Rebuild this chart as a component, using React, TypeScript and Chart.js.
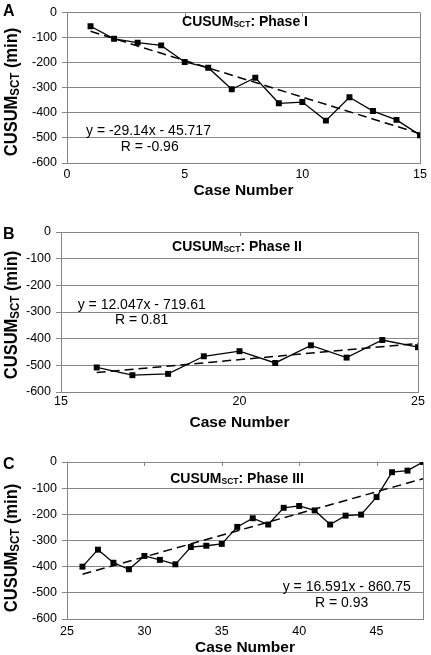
import React, { useEffect, useRef } from "react";
import { Chart, registerables } from "chart.js";

Chart.register(...registerables);

const FONT = '"Liberation Sans", Arial, Helvetica, sans-serif';
const GRID = "#868686";

// ---- data ----
const yTickValues = [0, -100, -200, -300, -400, -500, -600];

const phaseICases = [1, 2, 3, 4, 5, 6, 7, 8, 9, 10, 11, 12, 13, 14, 15];
const phaseIValues = [-55, -105, -120, -131, -197, -220, -306, -260, -362, -357, -431, -338, -393, -428, -489];
const phaseITrendCases = [1, 15];
const phaseITrendValues = [-75, -483];
const phaseIXTicks = [0, 5, 10, 15];

const phaseIICases = [16, 17, 18, 19, 20, 21, 22, 23, 24, 25];
const phaseIIValues = [-508, -537, -532, -466, -447, -491, -425, -471, -405, -432];
const phaseIITrendCases = [16, 25];
const phaseIITrendValues = [-527, -418];
const phaseIIXTicks = [15, 20, 25];

const phaseIIICases = [26, 27, 28, 29, 30, 31, 32, 33, 34, 35, 36, 37, 38, 39, 40, 41, 42, 43, 44, 45, 46, 47, 48];
const phaseIIIValues = [-400, -335, -385, -410, -359, -374, -391, -325, -320, -313, -248, -215, -239, -175, -168, -185, -239, -205, -201, -134, -39, -33, 0];
const phaseIIITrendCases = [26, 48];
const phaseIIITrendValues = [-429, -64];
const phaseIIIXTicks = [25, 30, 35, 40, 45];

type Part = { text: string; size: number; bold?: boolean; dy?: number };

type PanelCfg = {
  letter: string;
  phase: string;
  cases: number[];
  values: number[];
  trendCases: number[];
  trendValues: number[];
  xTicks: number[];
  xMin: number;
  xMax: number;
  canvasTop: number;
  canvasHeight: number;
  plotLeft: number;
  plotRight: number;
  plotTop: number;
  plotBottom: number;
  xTickPad: number;
  xTitlePad: number;
  letterBase: number;
  titleX: number;
  titleBase: number;
  eq: string;
  r: string;
  eqX: number;
  eqBase: number;
  rX: number;
  rBase: number;
  yTitleCenter: number;
};

const panels: PanelCfg[] = [
  {
    letter: "A", phase: ": Phase I",
    cases: phaseICases, values: phaseIValues,
    trendCases: phaseITrendCases, trendValues: phaseITrendValues,
    xTicks: phaseIXTicks, xMin: 0, xMax: 15,
    canvasTop: 0, canvasHeight: 205,
    plotLeft: 67, plotRight: 423, plotTop: 6, plotBottom: 163,
    xTickPad: 4, xTitlePad: 6.5,
    letterBase: 16, titleX: 245, titleBase: 25.7,
    eq: "y = -29.14x - 45.717", r: "R = -0.96",
    eqX: 86, eqBase: 135, rX: 120.7, rBase: 150.7,
    yTitleCenter: 92,
  },
  {
    letter: "B", phase: ": Phase II",
    cases: phaseIICases, values: phaseIIValues,
    trendCases: phaseIITrendCases, trendValues: phaseIITrendValues,
    xTicks: phaseIIXTicks, xMin: 15, xMax: 25,
    canvasTop: 212, canvasHeight: 223,
    plotLeft: 61, plotRight: 418, plotTop: 232, plotBottom: 392,
    xTickPad: 2.2, xTitlePad: 4.2,
    letterBase: 239, titleX: 237, titleBase: 250.7,
    eq: "y = 12.047x - 719.61", r: "R = 0.81",
    eqX: 77.7, eqBase: 309, rX: 115, rBase: 324,
    yTitleCenter: 315,
  },
  {
    letter: "C", phase: ": Phase III",
    cases: phaseIIICases, values: phaseIIIValues,
    trendCases: phaseIIITrendCases, trendValues: phaseIIITrendValues,
    xTicks: phaseIIIXTicks, xMin: 25, xMax: 48,
    canvasTop: 437, canvasHeight: 218,
    plotLeft: 67, plotRight: 423, plotTop: 462, plotBottom: 619,
    xTickPad: 5.2, xTitlePad: 0,
    letterBase: 469, titleX: 237, titleBase: 482.7,
    eq: "y = 16.591x - 860.75", r: "R = 0.93",
    eqX: 282.7, eqBase: 590.7, rX: 315, rBase: 606.7,
    yTitleCenter: 548,
  },
];

function fontOf(p: Part) {
  return `${p.bold ? "bold " : ""}${p.size}px ${FONT}`;
}

function drawRich(ctx: CanvasRenderingContext2D, parts: Part[], x: number, y: number, align: "left" | "center") {
  let total = 0;
  for (const p of parts) {
    ctx.font = fontOf(p);
    total += ctx.measureText(p.text).width;
  }
  let cx = align === "center" ? x - total / 2 : x;
  ctx.textAlign = "left";
  ctx.textBaseline = "alphabetic";
  for (const p of parts) {
    ctx.font = fontOf(p);
    ctx.fillText(p.text, cx, y + (p.dy || 0));
    cx += ctx.measureText(p.text).width;
  }
}

function makeDecor(cfg: PanelCfg) {
  const off = cfg.canvasTop;
  return {
    id: "decor" + cfg.letter,
    beforeDatasetsDraw(chart: any) {
      const { ctx, chartArea: a } = chart;
      const xs = chart.scales.x;
      ctx.save();
      ctx.strokeStyle = GRID;
      ctx.lineWidth = 1;
      ctx.beginPath();
      const rx = Math.round(a.right) + 0.5;
      ctx.moveTo(rx, a.top);
      ctx.lineTo(rx, a.bottom);
      for (const t of xs.ticks) {
        if (t.value > xs.min && t.value < xs.max) {
          const px = Math.round(xs.getPixelForValue(t.value)) + 0.5;
          ctx.moveTo(px, a.top);
          ctx.lineTo(px, a.top + 4);
        }
      }
      ctx.stroke();
      ctx.restore();
    },
    afterDraw(chart: any) {
      const ctx: CanvasRenderingContext2D = chart.ctx;
      ctx.save();
      ctx.fillStyle = "#000";
      // panel letter
      drawRich(ctx, [{ text: cfg.letter, size: 16, bold: true }], 3, cfg.letterBase - off, "left");
      // inner title
      drawRich(
        ctx,
        [
          { text: "CUSUM", size: 14, bold: true },
          { text: "SCT", size: 8.5, bold: true, dy: 1 },
          { text: cfg.phase, size: 14, bold: true },
        ],
        cfg.titleX,
        cfg.titleBase - off,
        "center"
      );
      // equation
      drawRich(ctx, [{ text: cfg.eq, size: 14 }], cfg.eqX, cfg.eqBase - off, "left");
      drawRich(ctx, [{ text: cfg.r, size: 14 }], cfg.rX, cfg.rBase - off, "left");
      // y title (glyphs slightly stretched across the text direction)
      ctx.save();
      ctx.translate(16.7, cfg.yTitleCenter - off);
      ctx.rotate(-Math.PI / 2);
      ctx.scale(1, 1.12);
      drawRich(
        ctx,
        [
          { text: "CUSUM", size: 16.5, bold: true },
          { text: "SCT", size: 11.5, bold: true, dy: 2.3 },
          { text: " (min)", size: 16.5, bold: true },
        ],
        0,
        0,
        "center"
      );
      ctx.restore();
      ctx.restore();
    },
  };
}

function Panel({ cfg }: { cfg: PanelCfg }) {
  const ref = useRef<HTMLCanvasElement | null>(null);
  useEffect(() => {
    if (!ref.current) return;
    const data = cfg.cases.map((c, i) => ({ x: c, y: cfg.values[i] }));
    const trend = cfg.trendCases.map((c, i) => ({ x: c, y: cfg.trendValues[i] }));
    const chart = new Chart(ref.current, {
      type: "scatter",
      data: {
        datasets: [
          {
            data: trend,
            showLine: true,
            borderColor: "#000",
            borderWidth: 1.5,
            borderDash: [9, 5],
            pointRadius: 0,
            fill: false,
          },
          {
            data,
            showLine: true,
            borderColor: "#000",
            backgroundColor: "#000",
            borderWidth: 1.3,
            pointStyle: "rect",
            pointRadius: 4.2,
            pointBorderWidth: 0,
            pointBackgroundColor: "#000",
            fill: false,
          },
        ],
      } as any,
      options: {
        responsive: false,
        animation: false,
        devicePixelRatio: 1,
        layout: {
          padding: {
            left: 0,
            top: cfg.plotTop - cfg.canvasTop,
            right: 431 - cfg.plotRight,
            bottom: 0,
          },
        },
        plugins: { legend: { display: false }, tooltip: { enabled: false }, title: { display: false } },
        scales: {
          x: {
            type: "linear",
            min: cfg.xMin,
            max: cfg.xMax,
            afterBuildTicks: (s: any) => {
              s.ticks = cfg.xTicks.map((v) => ({ value: v }));
            },
            afterFit: (s: any) => {
              s.height = cfg.canvasTop + cfg.canvasHeight - cfg.plotBottom;
            },
            grid: { display: false, drawTicks: false },
            border: { display: true, color: GRID, width: 1 },
            ticks: {
              color: "#000",
              padding: cfg.xTickPad,
              maxRotation: 0,
              autoSkip: false,
              font: { family: FONT, size: 12.5 },
            },
            title: {
              display: true,
              text: "Case Number",
              color: "#000",
              font: { family: FONT, size: 15.5, weight: "bold", lineHeight: 1 },
              padding: { top: 0, bottom: cfg.xTitlePad },
            },
          },
          y: {
            type: "linear",
            min: -600,
            max: 0,
            afterBuildTicks: (s: any) => {
              s.ticks = yTickValues.map((v) => ({ value: v }));
            },
            afterFit: (s: any) => {
              s.width = cfg.plotLeft;
            },
            grid: { color: GRID, lineWidth: 1, drawTicks: true, tickLength: 5 },
            border: { display: true, color: GRID, width: 1 },
            ticks: {
              color: "#000",
              padding: 5,
              autoSkip: false,
              font: { family: FONT, size: 12.5 },
            },
          },
        },
      } as any,
      plugins: [makeDecor(cfg) as any],
    });
    return () => chart.destroy();
  }, [cfg]);
  return (
    <canvas
      ref={ref}
      width={431}
      height={cfg.canvasHeight}
      style={{ position: "absolute", left: 0, top: cfg.canvasTop, width: 431, height: cfg.canvasHeight, display: "block" }}
    />
  );
}

export default function App() {
  return (
    <div style={{ position: "fixed", left: 0, top: 0, width: 431, height: 655, background: "#fff", overflow: "hidden" }}>
      {panels.map((p) => (
        <Panel key={p.letter} cfg={p} />
      ))}
    </div>
  );
}
